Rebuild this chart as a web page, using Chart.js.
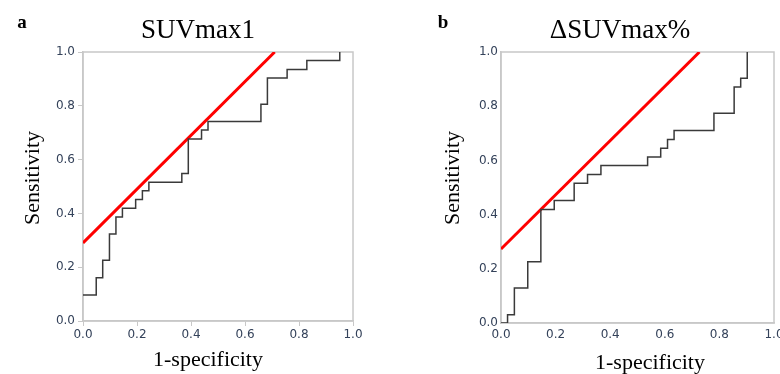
<!DOCTYPE html>
<html>
<head>
<meta charset="utf-8">
<script src="https://cdn.jsdelivr.net/npm/chart.js@4/dist/chart.umd.min.js"></script>
<style>
  body { margin: 0; background: #fff; }
  .panel { position: absolute; top: 0; width: 390px; height: 374px; }
</style>
</head>
<body>
<div class="panel" style="left:0"><canvas id="roc_a"></canvas></div>
<div class="panel" style="left:390px"><canvas id="roc_b"></canvas></div>
<script>
// tick values shared by both axes
const tick_values = [0, 0.2, 0.4, 0.6, 0.8, 1.0];

// panel a: SUVmax1 ROC (vertices after each vertical step)
const suvmax1_fpr = [0, 0.049, 0.073, 0.098, 0.122, 0.146, 0.195, 0.220, 0.244, 0.366, 0.390, 0.439, 0.463, 0.659, 0.683, 0.756, 0.829, 0.951];
const suvmax1_tpr = [0.097, 0.161, 0.226, 0.323, 0.387, 0.419, 0.452, 0.484, 0.516, 0.548, 0.677, 0.710, 0.742, 0.806, 0.903, 0.935, 0.968, 1.0];
const suvmax1_line_x = [0, 0.71];
const suvmax1_line_y = [0.29, 1.0];

// panel b: delta SUVmax% ROC
const dsuvmax_fpr = [0, 0.024, 0.049, 0.098, 0.146, 0.195, 0.268, 0.317, 0.366, 0.537, 0.585, 0.610, 0.634, 0.780, 0.854, 0.878, 0.902];
const dsuvmax_tpr = [0, 0.030, 0.129, 0.226, 0.419, 0.452, 0.516, 0.548, 0.581, 0.613, 0.645, 0.677, 0.710, 0.774, 0.871, 0.903, 1.0];
const dsuvmax_line_x = [0, 0.727];
const dsuvmax_line_y = [0.273, 1.0];

const toPoints = (xs, ys) => xs.map((x, i) => ({ x: x, y: ys[i] }));

// frame around the plot + letters and titles
const panelText = {
    id: "panelText",
    beforeDatasetsDraw(chart, args, o) {
        const ctx = chart.ctx, a = chart.chartArea;
        ctx.save();
        ctx.strokeStyle = "#c8c8c8";
        ctx.lineWidth = 1.5;
        ctx.strokeRect(a.left, a.top, a.right - a.left, a.bottom - a.top);
        ctx.restore();
    },
    afterDraw(chart, args, o) {
        const ctx = chart.ctx;
        ctx.save();
        ctx.fillStyle = "#000";
        ctx.textAlign = "center";
        ctx.textBaseline = "middle";
        ctx.font = "bold 19px 'Liberation Serif'";
        ctx.fillText(o.letter, o.letterX, 23);
        ctx.font = "27px 'Liberation Serif'";
        ctx.fillText(o.title, o.titleX, 31);
        ctx.font = "22px 'Liberation Serif'";
        ctx.fillText("1-specificity", o.xTitleX, o.xTitleY);
        ctx.translate(o.yTitleX, 178);
        ctx.rotate(-Math.PI / 2);
        ctx.fillText("Sensitivity", 0, 0);
        ctx.restore();
    }
};

function makeRoc(id, curve, line, o)
{
    return new Chart(id,
    {
        type: "line",
        data:
        {
            datasets:
            [
                {
                    data: curve,
                    stepped: "before",
                    borderColor: "#3a3a3a",
                    borderWidth: 1.5,
                    pointRadius: 0,
                    fill: false
                },
                {
                    data: line,
                    borderColor: "#ff0000",
                    borderWidth: 3,
                    pointRadius: 0,
                    fill: false
                }
            ]
        },
        options:
        {
            animation: false,
            responsive: true,
            maintainAspectRatio: false,
            layout: { padding: o.padding },
            plugins:
            {
                legend: { display: false },
                tooltip: { enabled: false },
                panelText: o
            },
            scales:
            {
                x:
                {
                    type: "linear",
                    min: 0,
                    max: 1,
                    border: { color: "#c8c8c8", width: 1.5 },
                    grid: { drawOnChartArea: false, drawTicks: o.tickLen > 0, tickLength: o.tickLen, color: "#c8c8c8" },
                    ticks:
                    {
                        color: "#34425a",
                        font: { family: "DejaVu Sans", size: 12 },
                        padding: o.xPad,
                        maxRotation: 0,
                        callback: v => v.toFixed(1)
                    },
                    afterBuildTicks: s => { s.ticks = tick_values.map(v => ({ value: v })); },
                    afterFit: s => { s.height = o.xHeight; s.paddingLeft = 0; s.paddingRight = 0; }
                },
                y:
                {
                    type: "linear",
                    min: 0,
                    max: 1,
                    border: { color: "#c8c8c8", width: 1.5 },
                    grid: { drawOnChartArea: false, drawTicks: o.tickLen > 0, tickLength: o.tickLen, color: "#c8c8c8" },
                    ticks:
                    {
                        color: "#34425a",
                        font: { family: "DejaVu Sans", size: 12 },
                        padding: 3,
                        callback: v => v.toFixed(1)
                    },
                    afterBuildTicks: s => { s.ticks = tick_values.map(v => ({ value: v })); },
                    afterFit: s => { s.width = o.yWidth; s.paddingTop = 0; s.paddingBottom = 0; }
                }
            }
        },
        plugins: [panelText]
    });
}

makeRoc("roc_a", toPoints(suvmax1_fpr, suvmax1_tpr), toPoints(suvmax1_line_x, suvmax1_line_y),
{
    letter: "a", letterX: 22, title: "SUVmax1", titleX: 198,
    xTitleX: 208, xTitleY: 360, yTitleX: 33,
    padding: { left: 0, right: 37, top: 52, bottom: 0 },
    yWidth: 83, xHeight: 53, tickLen: 5, xPad: 2
});

makeRoc("roc_b", toPoints(dsuvmax_fpr, dsuvmax_tpr), toPoints(dsuvmax_line_x, dsuvmax_line_y),
{
    letter: "b", letterX: 53, title: "\u0394SUVmax%", titleX: 230,
    xTitleX: 260, xTitleY: 363, yTitleX: 63,
    padding: { left: 0, right: 6, top: 52, bottom: 0 },
    yWidth: 111, xHeight: 51, tickLen: 0, xPad: 5
});
</script>
</body>
</html>
